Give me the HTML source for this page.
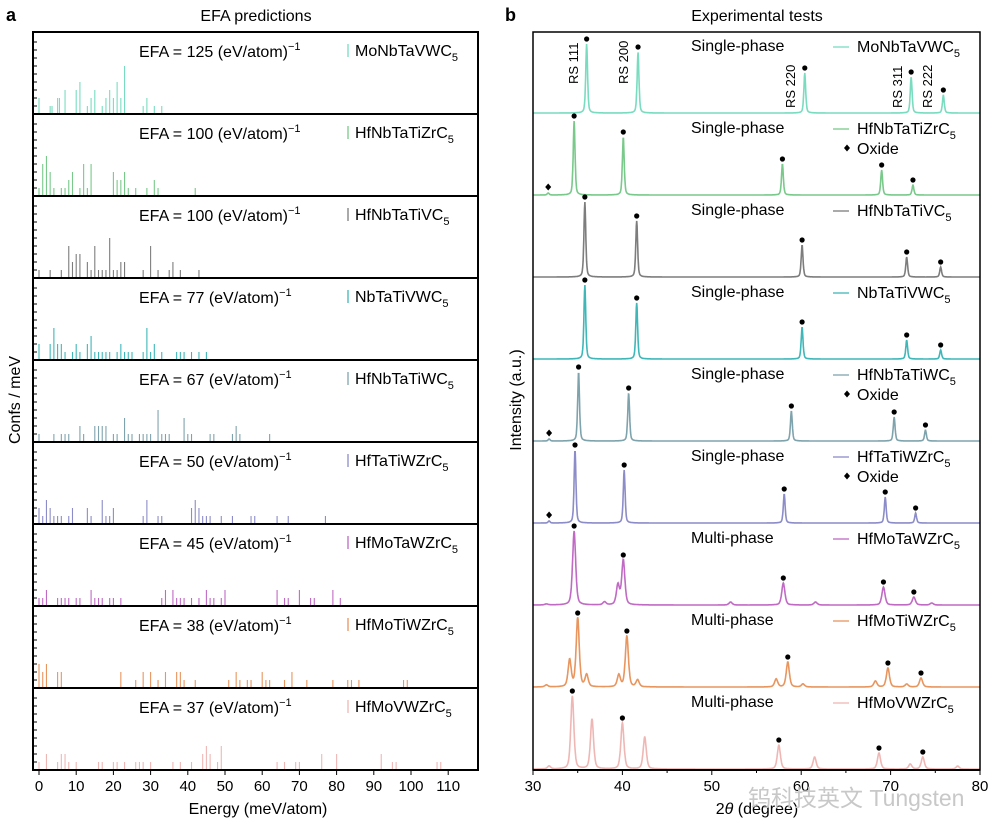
<!DOCTYPE html>
<html><head><meta charset="utf-8">
<style>
html,body{margin:0;padding:0;background:#fff;}
svg{display:block;font-family:"Liberation Sans",Arial,sans-serif;}
</style></head>
<body>
<svg id="fig" width="1003" height="826" viewBox="0 0 1003 826" xmlns="http://www.w3.org/2000/svg">
<text x="6" y="21" font-size="18" font-weight="bold">a</text>
<text x="256" y="21" font-size="16" text-anchor="middle">EFA predictions</text>
<text x="505" y="21" font-size="18" font-weight="bold">b</text>
<text x="757" y="21" font-size="16" text-anchor="middle">Experimental tests</text>
<text transform="translate(20,400) rotate(-90)" font-size="16" text-anchor="middle">Confs / meV</text>
<text transform="translate(521,400) rotate(-90)" font-size="16" text-anchor="middle">Intensity (a.u.)</text>
<text x="258" y="814" font-size="16" text-anchor="middle">Energy (meV/atom)</text>
<text x="757" y="814" font-size="16" text-anchor="middle">2<tspan font-style="italic">θ</tspan> (degree)</text>
<g id="left"></g>
<g id="right"></g>
<text x="748" y="806" font-size="23" fill="#c8c8c8" font-family="'Liberation Sans','Noto Sans CJK SC',sans-serif">钨科技英文 Tungsten</text>
</svg>
<script>
// ---- data ----
const names = ["MoNbTaVWC","HfNbTaTiZrC","HfNbTaTiVC","NbTaTiVWC","HfNbTaTiWC","HfTaTiWZrC","HfMoTaWZrC","HfMoTiWZrC","HfMoVWZrC"];
const efaValues = [125,100,100,77,67,50,45,38,37];
const colors = ["#79dcbf","#78c98a","#7d7d7d","#3fb7b9","#7fa3ad","#8c8cc8","#c06ac4","#e8955e","#efb7b4"];
const phases = ["Single-phase","Single-phase","Single-phase","Single-phase","Single-phase","Single-phase","Multi-phase","Multi-phase","Multi-phase"];
const hasOxide = [false,true,false,false,true,true,false,false,false];
const energyTicks = [0,10,20,30,40,50,60,70,80,90,100,110];
const thetaTicks = [30,40,50,60,70,80];

const e1 = [0,3,3.5,5,5.5,7,10,11,13,14,15,17,18,19,20,21,22,23,28,29,31,33];
const c1 = [2,1,1,2,2,3,3,4,1,2,3,1,2,3,2,4,2,6,1,2,1,1];
const e2 = [0,1,2,3,4,6,7,8,9,11,12,13,14,20,21,22,23,24,26,29,31,32,42];
const c2 = [1,4,5,3,1,1,1,2,3,1,4,1,4,3,2,2,3,1,1,1,2,1,1];
const e3 = [0,3,6,8,9,10,11,13,14,15,16,17,18,19,20,21,22,23,28,30,32,35,36,38,43];
const c3 = [1,1,1,4,2,3,3,2,1,4,1,1,1,5,1,1,2,2,1,4,1,1,2,1,1];
const e4 = [0,3,4,5,6,7,9,10,11,13,14,15,16,17,18,19,21,22,23,24,25,28,29,30,31,33,37,38,39,41,43,45];
const c4 = [2,2,4,2,2,1,1,2,1,2,3,1,1,1,1,1,1,2,1,1,1,1,4,1,2,1,1,1,1,1,1,1];
const e5 = [0,4,6,7,8,11,12,15,16,17,18,20,21,23,24,25,27,28,29,30,32,33,34,35,39,40,41,46,47,52,53,54,62];
const c5 = [1,1,1,1,1,2,1,2,2,2,2,1,1,3,1,1,1,1,1,1,4,1,1,1,3,1,1,1,1,1,2,1,1];
const e6 = [0,1,2,3,4,5,6,8,9,13,14,17,18,19,20,28,29,32,33,41,42,43,44,45,46,49,52,57,58,64,67,77];
const c6 = [2,1,3,2,1,1,1,1,2,2,1,3,1,1,2,1,3,1,1,2,3,2,1,1,1,1,1,1,1,1,1,1];
const e7 = [0,1,2,5,6,7,8,10,11,14,15,16,17,19,20,22,33,34,36,37,38,39,41,43,45,46,47,49,50,64,66,67,70,73,74,79,81];
const c7 = [1,1,2,1,1,1,1,1,1,2,1,1,1,1,1,1,1,2,2,1,1,1,1,1,2,1,1,1,2,2,1,1,2,1,1,2,1];
const e8 = [0,1,2,5,6,22,26,28,30,32,34,37,38,39,42,51,53,54,56,57,60,61,62,66,68,72,79,83,84,86,98,99];
const c8 = [3,2,3,2,2,2,1,2,2,1,2,2,2,1,1,1,2,1,1,1,2,1,1,1,2,1,1,1,1,1,1,1];
const e9 = [0,2,5,6,7,8,10,16,17,20,21,23,26,27,28,30,36,38,41,44,45,46,48,49,64,66,69,70,76,80,92,95,96,107,108];
const c9 = [1,2,1,2,2,1,1,1,1,1,1,1,1,1,1,1,1,1,1,2,3,2,1,3,1,1,1,1,2,2,2,1,1,1,1];
const energies = [e1,e2,e3,e4,e5,e6,e7,e8,e9];
const counts = [c1,c2,c3,c4,c5,c6,c7,c8,c9];

// XRD peaks: first 5 of each are RS reflections (marked with dots)
const p1 = [36.0,41.75,60.4,72.3,75.9];           const h1 = [69,61,40,36,18];
const p2 = [34.6,40.1,57.9,69.0,72.5,31.7];       const h2 = [74,58,31,25,10,2];
const p3 = [35.8,41.6,60.1,71.8,75.6];            const h3 = [75,56,32,20,10];
const p4 = [35.8,41.6,60.1,71.8,75.6];            const h4 = [74,56,32,19,9];
const p5 = [35.1,40.7,58.9,70.4,73.9,31.8];       const h5 = [69,48,30,24,11,2];
const p6 = [34.7,40.2,58.1,69.4,72.8,31.8];       const h6 = [73,53,29,26,10,2];
const p7 = [34.6,40.1,58.0,69.2,72.6,39.5,38.0,52.1,61.6,74.6,31.5]; const h7 = [74,45,22,18,8,20,3,3,3,2,1];
const p8 = [35.0,40.5,58.5,69.7,73.4,34.1,36.0,39.6,41.7,57.2,60.2,68.3,71.8,31.5]; const h8 = [69,51,25,19,9,27,12,12,7,8,3,6,3,2];
const p9 = [34.4,40.0,57.5,68.7,73.6,36.6,42.5,61.5,72.2,77.5,31.8]; const h9 = [73,46,24,16,12,50,32,12,5,3,3];
const peakPos = [p1,p2,p3,p4,p5,p6,p7,p8,p9];
const peakHt = [h1,h2,h3,h4,h5,h6,h7,h8,h9];
const oxidePos = [null,31.7,null,null,31.8,31.8,null,null,null];

// ---- layout ----
const NS = "http://www.w3.org/2000/svg";
const TOP = 32, PH = 82, N = 9, BOT = TOP + PH*N;
const LX0 = 33, LX1 = 478, RX0 = 533, RX1 = 980;
const ex = e => 39 + e*3.72;
const tx = t => RX0 + (t-30)*(RX1-RX0)/50;
const CU = 8;
function mk(tag, attrs, parent){const el=document.createElementNS(NS,tag);for(const k in attrs)el.setAttribute(k,attrs[k]);parent.appendChild(el);return el;}
const L = document.getElementById('left'), R = document.getElementById('right');

for (let i=0;i<N;i++){
  const top = TOP + PH*i, base = top + PH;
  const g = mk('g',{},L);
  
  
  for (let j=0;j<energies[i].length;j++){
    const x = ex(energies[i][j]);
    const b = mk('line',{x1:x,x2:x,y1:base,y2:base-counts[i][j]*CU,stroke:colors[i],'stroke-width':1.1},g);
    
    
  }
  for (let k=1;k<10;k++){ mk('line',{x1:LX0,x2:LX0+4,y1:base-k*CU,y2:base-k*CU,stroke:'#000','stroke-width':1},g); }
  const t = mk('text',{x:139,y:top+25,'font-size':16},g);
  t.textContent = 'EFA = '+efaValues[i]+' (eV/atom)';
  const sup = mk('tspan',{dy:-7,'font-size':11},t); sup.textContent='\u22121';
  
  
  mk('line',{x1:348,x2:348,y1:top+12,y2:top+25,stroke:colors[i],'stroke-width':1.3},g);
  const lt = mk('text',{x:355,y:top+24,'font-size':16},g);
  lt.textContent = names[i];
  const sub = mk('tspan',{dy:5,'font-size':11},lt); sub.textContent='5';
  
  
  if (i>0){ mk('line',{x1:LX0,x2:LX1,y1:top,y2:top,stroke:'#000','stroke-width':2},g); }
}
const lframe = mk('rect',{x:LX0,y:TOP,width:LX1-LX0,height:BOT-TOP,fill:'none',stroke:'#000','stroke-width':2},L);


for (const v of energyTicks){
  mk('line',{x1:ex(v),x2:ex(v),y1:BOT,y2:BOT+5,stroke:'#000'},L);
  const t = mk('text',{x:ex(v),y:BOT+21,'font-size':15,'text-anchor':'middle'},L);
  t.textContent = v;
  
  
}

// right panel
for (let i=0;i<N;i++){
  const base = TOP + PH*(i+1) - 1, top = TOP + PH*i;
  const multi = phases[i]==='Multi-phase';
  const w = multi ? 0.22 : 0.13;
  let d = '';
  for (let t=30; t<=80.001; t+=0.04){
    let y = 0;
    for (let j=0;j<peakPos[i].length;j++){ const z=(t-peakPos[i][j])/w; y += peakHt[i][j]/(1+z*z*1.4)*0.5 + peakHt[i][j]*0.5*Math.exp(-z*z*0.7); }
    d += (d?'L':'M') + tx(t).toFixed(1)+','+(base-y).toFixed(1);
  }
  const g = mk('g',{},R);
  
  
  const p = mk('path',{d:d,fill:'none',stroke:colors[i],'stroke-width':1.6},g);
  
  
  for (let j=0;j<5;j++){
    const c = mk('circle',{cx:tx(peakPos[i][j]),cy:base-peakHt[i][j]-5,r:2.6,fill:'#000'},g);
    
    
  }
  if (oxidePos[i]!==null){
    const x=tx(oxidePos[i]), y=base-8;
    const dm = mk('path',{d:`M${x},${y-3.5}L${x+3},${y}L${x},${y+3.5}L${x-3},${y}Z`,fill:'#000'},g);
    
    
  }
  const ph = mk('text',{x:691,y:top+19,'font-size':16},g);
  ph.textContent = phases[i];
  
  
  mk('line',{x1:833,x2:849,y1:top+15,y2:top+15,stroke:colors[i],'stroke-width':1.3},g);
  const lt = mk('text',{x:857,y:top+20,'font-size':16},g);
  lt.textContent = names[i];
  const sub = mk('tspan',{dy:5,'font-size':11},lt); sub.textContent='5';
  
  
  if (hasOxide[i]){
    const x=847,y=top+34;
    mk('path',{d:`M${x},${y-3.5}L${x+3},${y}L${x},${y+3.5}L${x-3},${y}Z`,fill:'#000'},g);
    const o = mk('text',{x:857,y:top+40,'font-size':16},g);
    o.textContent='Oxide';
    
    
  }
}
const rsLabels = ["RS 111","RS 200","RS 220","RS 311","RS 222"];
const rsX = [573,623,790,897,927], rsY = [84,84,108,108,108];
for (let k=0;k<5;k++){
  const t = mk('text',{transform:`translate(${rsX[k]+5},${rsY[k]}) rotate(-90)`,'font-size':13},R);
  t.textContent = rsLabels[k];
  
  
}
const rframe = mk('rect',{x:RX0,y:TOP,width:RX1-RX0,height:BOT-TOP,fill:'none',stroke:'#000','stroke-width':1.5},R);


mk('line',{x1:RX0,x2:RX1,y1:BOT,y2:BOT,stroke:'#000','stroke-width':2},R);
for (let t=30;t<=80;t+=5){ mk('line',{x1:tx(t),x2:tx(t),y1:BOT,y2:BOT+(t%10===0?5:3),stroke:'#000'},R); }
for (const v of thetaTicks){
  const t = mk('text',{x:tx(v),y:BOT+21,'font-size':15,'text-anchor':'middle'},R);
  t.textContent = v;
  
  
}
</script>
</body></html>
